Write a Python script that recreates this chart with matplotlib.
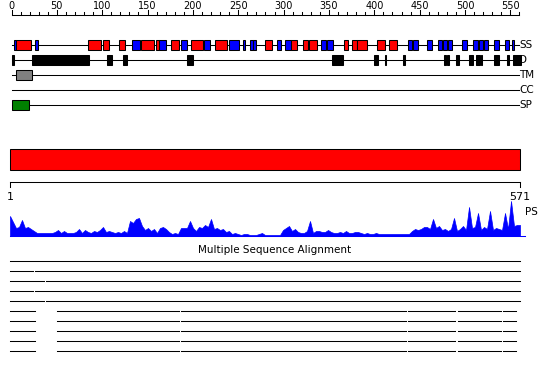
import numpy as np
import matplotlib
matplotlib.use("Agg")
import matplotlib.pyplot as plt
from matplotlib.patches import Rectangle

seq_len = 571

# secondary structure (start, end, type) - H = helix (red), E = strand (blue)
ss_segments = [
    (3, 5, "E"), (5, 21, "H"), (26, 29, "E"), (84, 99, "H"), (101, 107, "H"),
    (118, 125, "H"), (133, 142, "E"), (143, 157, "H"), (159, 163, "H"),
    (163, 170, "E"), (176, 185, "H"), (187, 193, "E"), (198, 211, "H"),
    (212, 219, "E"), (224, 238, "H"), (240, 251, "E"), (255, 257, "E"),
    (263, 266, "E"), (266, 270, "E"), (279, 287, "H"), (293, 297, "E"),
    (302, 308, "E"), (308, 315, "H"), (321, 327, "H"), (328, 337, "H"),
    (341, 347, "E"), (348, 354, "E"), (367, 371, "H"), (375, 381, "H"),
    (381, 392, "H"), (403, 412, "H"), (416, 425, "H"), (437, 442, "E"),
    (443, 448, "E"), (458, 464, "E"), (470, 475, "E"), (476, 480, "E"),
    (481, 486, "E"), (497, 502, "E"), (509, 514, "E"), (515, 520, "E"),
    (521, 525, "E"), (532, 538, "E"), (544, 549, "E"), (552, 554, "E"),
]
# disordered regions
d_segments = [
    (0, 3), (23, 85), (105, 111), (123, 127), (193, 200), (353, 366),
    (400, 404), (412, 413), (432, 434), (477, 479), (480, 482), (490, 493),
    (504, 509), (512, 516), (518, 519), (532, 538), (546, 549), (553, 562),
]
tm_segments = [(5, 23)]
cc_segments = []
sp_segments = [(0, 19)]

track_names = ["SS", "D", "TM", "CC", "SP"]

# PSIPRED-like profile, sampled evenly along the sequence
ps_values = [
    20, 14, 8, 9, 16, 8, 9, 7, 5, 3, 3, 3, 3, 3, 3, 4, 6, 3, 5, 3,
    3, 3, 4, 7, 3, 6, 4, 3, 5, 4, 6, 9, 4, 5, 4, 3, 4, 3, 5, 3,
    15, 13, 17, 18, 10, 6, 8, 5, 7, 3, 8, 9, 7, 4, 2, 3, 2, 8, 8, 8,
    15, 8, 5, 9, 8, 11, 9, 17, 7, 8, 6, 7, 4, 5, 2, 3, 2, 1, 2, 2,
    1, 1, 1, 2, 3, 1, 1, 1, 1, 1, 1, 6, 8, 10, 5, 7, 4, 3, 3, 5,
    15, 3, 5, 5, 4, 4, 6, 4, 3, 3, 4, 3, 5, 3, 3, 4, 4, 3, 2, 3,
    2, 2, 3, 2, 2, 2, 2, 2, 2, 2, 2, 2, 2, 2, 5, 7, 6, 7, 9, 9,
    7, 17, 8, 10, 6, 7, 5, 7, 18, 5, 7, 10, 6, 29, 8, 9, 23, 6, 9, 7,
    25, 6, 8, 7, 6, 23, 7, 35, 10, 11, 11,
]

# alignment rows: list of covered ranges
msa_rows = [
    [(1, 571)],
    [(1, 27), (29, 571)],
    [(1, 39), (41, 571)],
    [(1, 27), (29, 571)],
    [(1, 39), (41, 571)],
] + [[(1, 4), (6, 29), (54, 190), (192, 444), (446, 498), (502, 550), (552, 567)]] * 5

lw = 0.75
fig = plt.figure(figsize=(5.5, 3.8), dpi=100)

# ---- top panel: feature tracks on the residue ruler ----
ax = fig.add_axes([0, 0, 1, 1])
ax.set_xlim(-12.7, 593.7)
ax.set_ylim(380, 0)
ax.axis("off")

ax.plot([0, 560], [15, 15], color="black", lw=lw)
for v in range(0, 561, 10):
    top = 10 if v % 50 == 0 else 12
    ax.plot([v, v], [15, top], color="black", lw=lw)
    if v % 50 == 0:
        ax.text(v, 6, str(v), ha="center", va="center", fontsize=7)

tracks = {
    "SS": [(a, b, "red" if t == "H" else "blue") for a, b, t in ss_segments],
    "D": [(a, b, "black") for a, b in d_segments],
    "TM": [(a, b, "#808080") for a, b in tm_segments],
    "CC": [(a, b, "#ffcc00") for a, b in cc_segments],
    "SP": [(a, b, "green") for a, b in sp_segments],
}
for i, name in enumerate(track_names):
    y = 45 + 15 * i
    ax.plot([0, 560], [y, y], color="black", lw=lw, zorder=1)
    for a, b, c in tracks[name]:
        ax.add_patch(Rectangle((a, y - 5), b - a, 10, facecolor=c,
                               edgecolor="black", lw=lw, zorder=2))
    ax.text(560, y, name, ha="left", va="center", fontsize=7.5)

# ---- bottom panel: domain bar, ruler, PS profile, MSA ----
ax2 = fig.add_axes([0, 0, 1, 1])
ax2.set_xlim(-10.18, 604.5)
ax2.set_ylim(380, 0)
ax2.axis("off")

ax2.add_patch(Rectangle((1, 149), seq_len - 1, 21, facecolor="red",
                        edgecolor="black", lw=lw))
ax2.plot([1, seq_len], [182, 182], color="black", lw=lw)
for v in (1, seq_len):
    ax2.plot([v, v], [182, 187], color="black", lw=lw)
    ax2.text(v, 197, str(v), ha="center", va="center", fontsize=8)
ax2.text(577, 212, "PS", ha="left", va="center", fontsize=7.5)
ax2.plot([1, 577], [236, 236], color="blue", lw=lw)

ax2.text(0.5, 250, "Multiple Sequence Alignment", ha="center", va="center",
         fontsize=7.5, transform=ax2.get_yaxis_transform())
for r, segs in enumerate(msa_rows):
    y = 261 + 10 * r
    for a, b in segs:
        ax2.plot([a, b], [y, y], color="black", lw=lw)

ax3 = fig.add_axes([0, 1 - 236 / 380, 1, 38 / 380])
ax3.set_xlim(-10.18, 604.5)
ax3.set_ylim(0, 38)
ax3.axis("off")
ps_x = np.linspace(1, seq_len, len(ps_values))
ax3.fill_between(ps_x, 0, ps_values, color="blue", lw=0.5)

fig.savefig("out.png", dpi=100)
